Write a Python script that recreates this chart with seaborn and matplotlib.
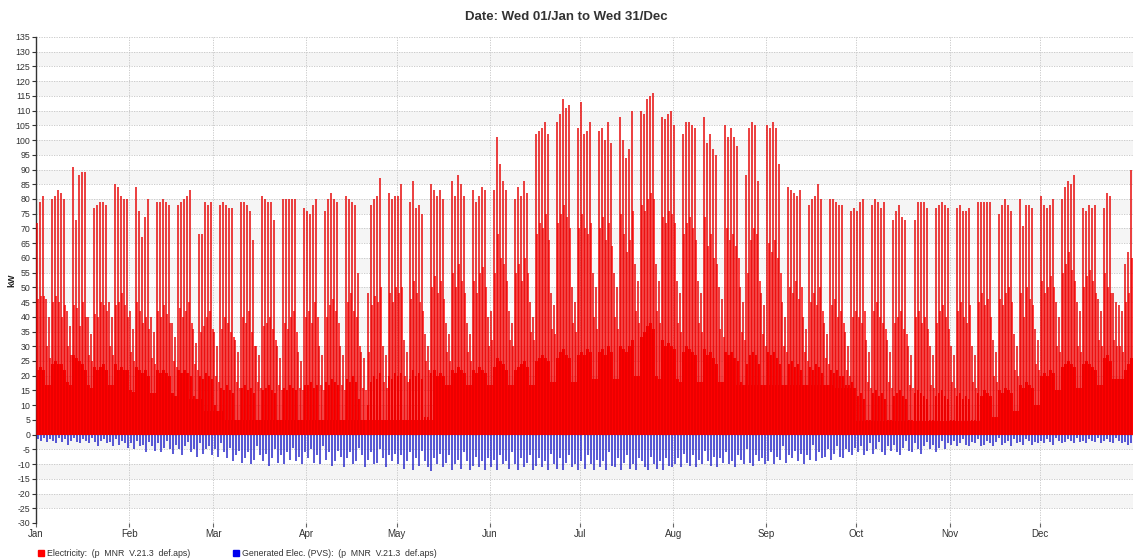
import numpy as np
import matplotlib
matplotlib.use("Agg")
import matplotlib.pyplot as plt
import seaborn as sns
from matplotlib.patches import Rectangle

# month axis
month_names = ["Jan", "Feb", "Mar", "Apr", "May", "Jun", "Jul", "Aug", "Sep", "Oct", "Nov", "Dec"]
month_starts = [0, 31, 59, 90, 120, 151, 181, 212, 243, 273, 304, 334]

# daily morning peak of Electricity (kW)
peak_jan = [72, 79, 81, 46, 40, 80, 81, 83, 82, 80, 42, 37, 91, 73, 88, 89, 89, 40, 34, 77, 78, 79, 79, 78, 45, 40, 85, 84, 81, 80, 80]
peak_feb = [42, 36, 84, 76, 67, 74, 80, 40, 35, 79, 79, 80, 79, 78, 38, 33, 78, 79, 80, 81, 83, 36, 31, 68, 68, 79, 78, 79]
peak_mar = [35, 30, 78, 79, 78, 77, 77, 32, 28, 79, 79, 78, 76, 66, 30, 27, 81, 80, 79, 79, 73, 30, 26, 80, 80, 80, 80, 80, 28, 25, 77]
peak_apr = [76, 75, 78, 80, 30, 27, 76, 80, 82, 80, 79, 30, 27, 81, 80, 79, 78, 55, 28, 26, 48, 78, 80, 81, 87, 30, 27, 82, 80, 81]
peak_may = [81, 85, 32, 28, 79, 86, 77, 78, 75, 34, 30, 85, 83, 81, 83, 80, 38, 34, 86, 81, 88, 85, 81, 38, 34, 83, 79, 81, 84, 83, 40]
peak_jun = [42, 83, 101, 92, 86, 83, 42, 38, 80, 84, 81, 86, 82, 45, 40, 102, 103, 104, 106, 102, 48, 44, 106, 109, 114, 111, 112, 50, 45, 104]
peak_jul = [113, 102, 103, 106, 55, 50, 103, 104, 100, 106, 99, 55, 50, 108, 100, 94, 97, 110, 58, 52, 110, 109, 114, 115, 116, 58, 52, 108, 107, 109, 110]
peak_aug = [105, 52, 48, 102, 106, 106, 105, 104, 52, 48, 108, 99, 102, 97, 95, 50, 46, 105, 101, 104, 101, 98, 50, 45, 88, 104, 106, 105, 86, 48, 44]
peak_sep = [105, 104, 106, 104, 92, 45, 40, 84, 83, 82, 81, 83, 40, 36, 78, 80, 81, 85, 80, 38, 34, 80, 80, 79, 78, 78, 35, 30, 76, 77]
peak_oct = [76, 79, 80, 32, 28, 78, 80, 79, 77, 79, 32, 28, 73, 76, 78, 74, 73, 30, 27, 73, 79, 79, 79, 77, 30, 27, 77, 78, 79, 78, 77]
peak_nov = [30, 27, 77, 78, 76, 76, 77, 30, 27, 79, 79, 79, 79, 79, 32, 28, 75, 78, 80, 78, 76, 34, 30, 80, 71, 78, 78, 77, 36, 32]
peak_dec = [81, 78, 77, 78, 80, 45, 40, 80, 84, 86, 85, 88, 45, 42, 77, 76, 78, 77, 78, 46, 42, 77, 82, 81, 48, 45, 44, 42, 58, 62, 90]

# daily secondary (afternoon) peak (kW)
second_jan = [46, 47, 47, 30, 26, 45, 47, 45, 40, 44, 30, 27, 44, 43, 37, 45, 40, 27, 25, 41, 40, 45, 44, 42, 30, 27, 44, 45, 48, 44, 40]
second_feb = [28, 25, 45, 42, 38, 40, 36, 26, 24, 42, 40, 44, 41, 38, 25, 23, 43, 40, 42, 45, 38, 24, 22, 35, 37, 40, 42, 36]
second_mar = [20, 18, 36, 40, 38, 35, 33, 18, 16, 40, 38, 42, 35, 30, 18, 16, 37, 38, 40, 36, 32, 17, 15, 38, 36, 40, 42, 35, 16, 15, 40]
second_apr = [42, 38, 45, 40, 17, 15, 40, 44, 46, 42, 38, 17, 15, 45, 48, 42, 40, 30, 16, 15, 28, 44, 47, 45, 50, 18, 16, 48, 45, 50]
second_may = [48, 50, 20, 18, 46, 52, 48, 45, 42, 25, 22, 50, 54, 48, 52, 46, 28, 25, 55, 50, 58, 52, 48, 28, 25, 52, 48, 55, 57, 50, 30]
second_jun = [32, 55, 68, 60, 58, 52, 32, 30, 55, 58, 52, 60, 55, 35, 32, 68, 72, 70, 75, 66, 36, 34, 72, 75, 78, 74, 70, 38, 35, 70]
second_jul = [75, 70, 68, 72, 40, 36, 70, 74, 66, 72, 64, 40, 36, 75, 68, 62, 66, 76, 42, 38, 78, 76, 80, 82, 80, 42, 38, 74, 72, 76, 75]
second_aug = [72, 38, 35, 68, 72, 74, 70, 66, 38, 35, 74, 64, 68, 60, 58, 36, 33, 70, 66, 68, 64, 60, 35, 32, 55, 66, 70, 68, 52, 34, 30]
second_sep = [65, 62, 66, 60, 55, 30, 28, 50, 48, 52, 46, 50, 28, 25, 45, 48, 44, 50, 42, 26, 24, 44, 46, 40, 42, 38, 22, 20, 40, 42]
second_oct = [40, 38, 42, 18, 16, 42, 45, 40, 38, 36, 18, 16, 38, 40, 42, 36, 34, 17, 16, 40, 42, 38, 40, 36, 17, 16, 38, 42, 44, 40, 36]
second_nov = [18, 16, 42, 45, 40, 38, 44, 18, 16, 45, 48, 44, 46, 40, 20, 18, 46, 44, 48, 50, 45, 22, 20, 48, 40, 50, 46, 44, 24, 22]
second_dec = [52, 48, 50, 54, 50, 30, 28, 55, 58, 62, 56, 52, 30, 28, 50, 54, 56, 52, 48, 32, 30, 55, 50, 48, 32, 30, 30, 28, 45, 48, 60]

# daily typical daytime load (kW)
mid_jan = [22, 23, 22, 17, 17, 24, 25, 24, 24, 22, 18, 17, 27, 26, 25, 24, 22, 17, 16, 23, 22, 23, 24, 22, 17, 17, 24, 22, 23, 22, 22]
mid_feb = [15, 14, 23, 22, 21, 22, 20, 14, 14, 22, 21, 22, 21, 20, 14, 13, 22, 21, 22, 21, 20, 13, 12, 20, 19, 21, 20, 19]
mid_mar = [10, 8, 16, 15, 17, 15, 14, 5, 5, 16, 17, 15, 16, 14, 5, 5, 15, 16, 17, 15, 14, 5, 5, 16, 15, 17, 16, 15, 5, 5, 17]
mid_apr = [17, 18, 16, 17, 5, 5, 18, 17, 19, 18, 17, 5, 5, 19, 18, 20, 18, 12, 5, 5, 10, 18, 20, 19, 21, 5, 5, 20, 19, 21]
mid_may = [20, 21, 5, 5, 19, 22, 20, 21, 19, 6, 6, 21, 22, 20, 21, 20, 17, 17, 22, 21, 23, 22, 21, 17, 17, 22, 21, 23, 22, 21, 17]
mid_jun = [17, 23, 26, 25, 24, 22, 17, 17, 22, 23, 24, 25, 23, 17, 17, 25, 26, 27, 26, 25, 18, 18, 26, 28, 29, 27, 26, 18, 18, 27]
mid_jul = [28, 27, 29, 28, 19, 19, 28, 29, 27, 30, 28, 19, 19, 30, 29, 28, 30, 32, 20, 20, 33, 35, 37, 38, 36, 20, 19, 32, 30, 31, 30]
mid_aug = [29, 19, 18, 28, 30, 29, 28, 27, 18, 18, 29, 27, 28, 26, 24, 18, 18, 28, 27, 28, 26, 25, 18, 17, 24, 27, 28, 27, 24, 17, 17]
mid_sep = [28, 27, 28, 26, 24, 17, 17, 24, 25, 23, 24, 22, 17, 17, 23, 22, 24, 23, 21, 17, 17, 22, 21, 22, 20, 20, 17, 17, 18, 13]
mid_oct = [13, 14, 12, 5, 5, 14, 15, 13, 14, 12, 5, 5, 13, 14, 15, 13, 12, 5, 5, 14, 15, 14, 13, 12, 5, 5, 13, 14, 15, 13, 12]
mid_nov = [5, 5, 13, 14, 12, 13, 12, 5, 5, 14, 13, 15, 14, 13, 6, 6, 15, 14, 16, 15, 14, 8, 8, 17, 16, 18, 17, 16, 10, 10]
mid_dec = [20, 21, 20, 22, 21, 15, 15, 23, 24, 25, 24, 23, 16, 16, 24, 25, 24, 23, 22, 17, 17, 26, 27, 25, 19, 19, 19, 19, 22, 24, 26]

# night base load per 7-day block from 1 Jan (kW)
base_weekly = [16, 16, 16, 15, 14.5, 14, 13, 12, 8,
               4.8, 4.8, 4.8, 4.8, 4.8, 4.8, 4.8, 4.8, 4.8, 4.8,
               16,
               17, 17, 17, 17, 17, 17, 17, 17, 17, 17, 17, 17, 17, 17, 17, 17, 17, 17,
               16,
               4.5, 4.5, 4.5, 4.5, 4.5, 4.5,
               5, 7, 9.5, 13, 15, 16, 18,
               19]

# daily PV generation peak (kW, shown negative)
pv_jan = [1.5, 2, 1, 2.5, 1.5, 2, 3, 1, 2.5, 1.5, 3.5, 2, 1, 2.5, 3, 1.5, 2, 3, 1, 2.5, 4, 2, 1.5, 3, 2.5, 4, 1.5, 3.5, 2, 3, 4.5]
pv_feb = [3, 5, 2, 4, 3.5, 6, 2.5, 4, 5.5, 3, 6, 4.5, 2, 5, 6.5, 3.5, 5, 7, 4, 2.5, 6, 5, 7.5, 3, 6.5, 5, 4, 7]
pv_mar = [5, 7.5, 3, 6, 8, 4.5, 9, 7, 5.5, 9.5, 8, 6, 10, 8.5, 4, 7, 9, 6.5, 10.5, 8, 5, 9.5, 7, 10, 6, 8.5, 4.5, 9, 7.5, 10, 6]
pv_apr = [8, 5, 9.5, 7, 10, 4, 8.5, 6, 10.5, 9, 5.5, 7.5, 11, 8, 6, 10, 9, 4.5, 7, 11, 8.5, 6, 10, 9.5, 5, 8, 11, 7, 9, 6.5]
pv_may = [10, 7, 11.5, 9, 6, 12, 8, 10.5, 5.5, 9, 11, 12.5, 8, 10, 6.5, 11, 9.5, 7, 12, 10, 8.5, 11.5, 6, 9, 12, 10.5, 7.5, 11, 9, 12, 8]
pv_jun = [11, 8.5, 12, 7, 10, 9, 11.5, 6, 10, 12, 8, 11, 9.5, 7, 12, 10.5, 8, 11, 9, 12, 6.5, 10, 11.5, 8, 12, 9.5, 7, 11, 10, 12]
pv_jul = [9, 11.5, 7, 10, 12, 8.5, 11, 9, 12, 6, 10.5, 11, 8, 12, 9.5, 7, 11.5, 10, 12, 8, 9, 11, 12, 7.5, 10, 11.5, 9, 12, 8, 10.5, 11]
pv_aug = [10, 8, 11, 6.5, 9.5, 10.5, 7, 11, 8.5, 10, 5.5, 9, 10.5, 7.5, 11, 8, 9.5, 6, 10, 9, 11, 7, 8.5, 10, 5, 9.5, 10.5, 7, 9, 8, 10]
pv_sep = [9, 6, 10, 7.5, 8.5, 4, 9.5, 7, 8, 5.5, 9, 6.5, 10, 7, 8.5, 3.5, 9, 6, 8, 7.5, 5, 8.5, 6.5, 4, 7.5, 8, 5, 6, 7, 4.5]
pv_oct = [6, 4, 7, 5.5, 3, 6.5, 5, 2.5, 6, 7, 4, 5.5, 3.5, 6, 7, 4.5, 2, 5.5, 6, 3, 5, 6.5, 4, 2.5, 5, 3.5, 6, 4.5, 2, 5, 3]
pv_nov = [3.5, 2, 4, 3, 1.5, 3.5, 4, 2.5, 3, 1.5, 4, 3.5, 2, 3, 4, 2.5, 1, 3.5, 3, 2, 4, 1.5, 3, 2.5, 3.5, 1.5, 2, 3.5, 2.5, 3]
pv_dec = [2, 3, 1.5, 2.5, 3.5, 1, 2, 3, 2.5, 1.5, 2, 3, 1, 2.5, 2, 3, 1.5, 2, 2.5, 1, 3, 2, 1.5, 2.5, 3, 1, 2, 3, 2.5, 3.5, 3]

peak = np.concatenate([peak_jan, peak_feb, peak_mar, peak_apr, peak_may, peak_jun,
                       peak_jul, peak_aug, peak_sep, peak_oct, peak_nov, peak_dec])
second = np.concatenate([second_jan, second_feb, second_mar, second_apr, second_may, second_jun,
                         second_jul, second_aug, second_sep, second_oct, second_nov, second_dec])
mid = np.concatenate([mid_jan, mid_feb, mid_mar, mid_apr, mid_may, mid_jun,
                      mid_jul, mid_aug, mid_sep, mid_oct, mid_nov, mid_dec])
pv = np.concatenate([pv_jan, pv_feb, pv_mar, pv_apr, pv_may, pv_jun,
                     pv_jul, pv_aug, pv_sep, pv_oct, pv_nov, pv_dec])
days = np.arange(len(peak))

# step edges for the weekly base
edges = np.minimum(np.arange(len(base_weekly) + 1) * 7, len(days))
base_step = np.append(base_weekly, base_weekly[-1])

sns.set_style("white")
plt.rcParams['font.family'] = ['Liberation Sans', 'DejaVu Sans']
plt.rcParams['axes.unicode_minus'] = False

W, H = 1133, 558
fig = plt.figure(figsize=(W / 100, H / 100), dpi=100)
ax = fig.add_axes([36 / W, 35 / H, 1 - 36 / W, 486 / H])

red = '#ff0000'
blue = '#0a0ac4'

# alternating background bands
for lo in range(-25, 130, 10):
    ax.axhspan(lo, lo + 5, color='#f5f5f5', zorder=0, lw=0)

ax.fill_between(edges, 0, base_step, step='post', color=red, lw=0, zorder=2)
ax.bar(days + 0.5, mid, width=0.85, color=red, linewidth=0, zorder=2)
ax.vlines(days + 0.75, 0, second, colors=red, lw=1.4, alpha=0.75, zorder=3)
ax.vlines(days + 0.3, 0, peak, colors='#e60000', lw=1.2, alpha=0.88, zorder=3)
ax.vlines(days + 0.5, -pv, 0, colors=blue, lw=1.2, alpha=0.8, zorder=3)

ax.set_xlim(0, len(days))
ax.set_ylim(-30, 135)
ax.set_yticks(range(-30, 136, 5))
ax.set_xticks(month_starts)
ax.set_xticklabels(month_names)
ax.grid(True, ls=(0, (1.5, 1.5)), color='#c4c4c4', lw=0.6)
ax.set_axisbelow(True)
ax.tick_params(axis='y', labelsize=6.3, labelcolor='#333333', length=3, width=0.8,
               color='#333333', pad=1, left=True)
ax.tick_params(axis='x', labelsize=7, labelcolor='#333333', length=3, width=0.8,
               color='#666666', pad=1, bottom=True)

sns.despine(ax=ax, left=False, bottom=True)
ax.spines['left'].set_color('#333333')
ax.spines['left'].set_linewidth(1.0)

fig.text(0.5, 1 - 17 / H, 'Date: Wed 01/Jan to Wed 31/Dec', ha='center', va='center',
         fontsize=9.5, fontweight='bold', color='#333333')
fig.text(12 / W, 1 - 280 / H, 'kW', rotation=90, ha='center', va='center',
         fontsize=6.5, fontweight='bold', color='#222222')

# legend row at the bottom
fig.patches.append(Rectangle((38 / W, 1 - 556 / H), 6 / W, 6 / H, color=red,
                             transform=fig.transFigure, figure=fig))
fig.text(47 / W, 1 - 553 / H, 'Electricity:  (p  MNR  V.21.3  def.aps)', ha='left', va='center',
         fontsize=6.3, color='#333333')
fig.patches.append(Rectangle((233 / W, 1 - 556 / H), 6 / W, 6 / H, color='#0000ee',
                             transform=fig.transFigure, figure=fig))
fig.text(242 / W, 1 - 553 / H, 'Generated Elec. (PVS):  (p  MNR  V.21.3  def.aps)', ha='left',
         va='center', fontsize=6.3, color='#333333')

fig.savefig('out.png', dpi=100)
